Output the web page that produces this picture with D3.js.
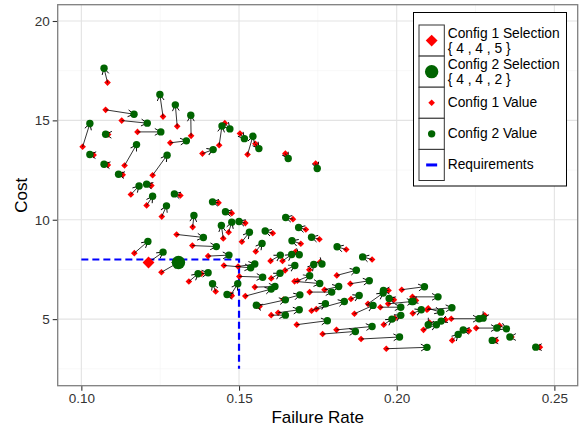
<!DOCTYPE html>
<html>
<head>
<meta charset="utf-8">
<script src="https://cdn.jsdelivr.net/npm/d3@7"></script>
<style>
  body { margin: 0; background: #fff; }
  text { font-family: "Liberation Sans", Arial, sans-serif; }
</style>
</head>
<body>
<svg id="chart" width="584" height="431"></svg>
<script>
// config 1 (red) -> config 2 (green), one arrow per pair
const config1Rate = [
  0.1083, 0.1077, 0.1128, 0.1178, 0.1259, 0.1304, 0.1348, 0.1282, 0.1004, 0.1085,
  0.1039, 0.1084, 0.1137, 0.1131, 0.1226, 0.1157, 0.1222, 0.1207, 0.1314, 0.1255,
  0.1353, 0.1384, 0.1437, 0.1455, 0.1503, 0.1527, 0.1552, 0.1647, 0.1743, 0.1435,
  0.1477, 0.1520, 0.1450, 0.1467, 0.1509, 0.1553, 0.1607, 0.1302, 0.1352, 0.1402,
  0.1168, 0.1213, 0.1254, 0.1341, 0.1381, 0.1426, 0.1474, 0.1477, 0.1452, 0.1497,
  0.1501, 0.1520, 0.1550, 0.1565, 0.1561, 0.1602, 0.1602, 0.1600, 0.1638, 0.1679,
  0.1696, 0.1671, 0.1712, 0.1755, 0.1840, 0.1922, 0.1646, 0.1723, 0.1685, 0.1676,
  0.1757, 0.1771, 0.1810, 0.1724, 0.1853, 0.1855, 0.1730, 0.1745, 0.1866, 0.1909,
  0.1948, 0.1973, 0.2016, 0.2050, 0.1959, 0.2051, 0.2096, 0.2100, 0.2085, 0.2173,
  0.2279, 0.2252, 0.2229, 0.2176, 0.2315, 0.2364, 0.2326, 0.2454, 0.1974, 0.1991,
  0.1683, 0.1765, 0.1809, 0.1887, 0.1967, 0.1994, 0.2061, 0.2155, 0.2104, 0.1624, 0.1641
];
const config1Cost = [
  16.90, 15.53, 14.99, 14.42, 15.19, 14.70, 14.22, 13.87, 13.67, 14.29,
  13.26, 12.76, 12.73, 12.26, 12.24, 11.27, 11.72, 10.72, 11.22, 10.16,
  9.63, 13.33, 13.75, 14.86, 14.34, 13.28, 13.82, 13.33, 12.83, 10.85,
  10.33, 9.83, 9.06, 9.37, 8.89, 8.40, 9.32, 9.26, 8.70, 8.17,
  8.32, 7.85, 7.36, 6.89, 7.28, 6.39, 6.22, 6.17, 7.70, 7.65,
  7.15, 6.16, 6.61, 5.64, 5.67, 5.20, 7.05, 7.93, 7.93, 8.39,
  8.79, 10.03, 9.51, 9.02, 8.50, 8.00, 7.45, 7.48, 6.93, 6.90,
  7.87, 6.48, 7.20, 6.36, 6.78, 6.01, 5.42, 5.50, 5.27, 5.77,
  5.60, 5.77, 6.48, 6.12, 4.72, 5.29, 5.47, 5.54, 4.46, 5.02,
  5.19, 4.55, 4.41, 3.93, 3.93, 4.10, 4.67, 3.59, 6.44, 5.97,
  4.72, 4.25, 4.46, 4.00, 3.51, 5.05, 5.94, 4.97, 4.83, 5.32, 5.99
];
const config2Rate = [
  0.1072, 0.1167, 0.1209, 0.1252, 0.1249, 0.1298, 0.1347, 0.1333, 0.1027, 0.1077,
  0.1027, 0.1072, 0.1175, 0.1118, 0.1272, 0.1183, 0.1207, 0.1226, 0.1295, 0.1270,
  0.1357, 0.1418, 0.1446, 0.1471, 0.1517, 0.1544, 0.1563, 0.1656, 0.1748, 0.1416,
  0.1457, 0.1500, 0.1444, 0.1477, 0.1533, 0.1573, 0.1583, 0.1387, 0.1428, 0.1468,
  0.1211, 0.1259, 0.1308, 0.1370, 0.1402, 0.1416, 0.1496, 0.1462, 0.1537, 0.1550,
  0.1575, 0.1602, 0.1614, 0.1555, 0.1647, 0.1647, 0.1630, 0.1631, 0.1667, 0.1691,
  0.1668, 0.1648, 0.1689, 0.1730, 0.1811, 0.1892, 0.1677, 0.1737, 0.1724, 0.1756,
  0.1763, 0.1816, 0.1872, 0.1794, 0.1913, 0.1881, 0.1774, 0.1834, 0.1925, 0.1957,
  0.2013, 0.2052, 0.2088, 0.2131, 0.1985, 0.2078, 0.2175, 0.2140, 0.2126, 0.2261,
  0.2274, 0.2318, 0.2211, 0.2195, 0.2303, 0.2359, 0.2348, 0.2441, 0.1958, 0.1976,
  0.1780, 0.1869, 0.1922, 0.2009, 0.2096, 0.2013, 0.2048, 0.2141, 0.2100, 0.1691, 0.1693
];
const config2Cost = [
  17.62, 15.31, 14.86, 14.42, 16.30, 15.78, 15.26, 13.97, 14.84, 14.30,
  13.28, 12.79, 13.78, 12.29, 13.25, 11.70, 11.79, 11.18, 11.30, 10.70,
  10.21, 13.53, 14.72, 14.57, 14.08, 14.20, 13.58, 13.08, 12.58, 10.90,
  10.40, 9.91, 9.71, 9.88, 9.37, 8.81, 9.43, 9.11, 8.65, 8.22,
  8.91, 8.37, 7.85, 7.28, 7.33, 6.78, 6.78, 6.24, 7.58, 7.77,
  7.11, 6.51, 6.64, 5.70, 5.97, 5.20, 7.31, 8.22, 8.25, 8.24,
  8.94, 10.11, 9.61, 9.12, 8.64, 8.13, 7.70, 7.75, 7.18, 6.79,
  7.77, 6.64, 7.46, 6.36, 6.93, 6.19, 5.77, 5.89, 5.69, 6.31,
  5.60, 5.89, 6.63, 6.12, 5.00, 5.47, 5.57, 5.35, 4.72, 5.02,
  5.05, 4.55, 4.45, 4.23, 3.93, 4.10, 4.51, 3.59, 6.44, 6.04,
  4.92, 4.38, 4.63, 4.10, 3.58, 5.19, 5.89, 4.90, 4.72, 5.47, 6.22
];

// selected configurations
const selection1 = { rate: 0.1213, cost: 7.85 };
const selection2 = { rate: 0.1308, cost: 7.85 };

// requirement lines (cost <= 8, failure rate <= 0.15)
const reqRate = [0.10, 0.15, 0.15];
const reqCost = [8, 8, 2.5];

const xTicks = [0.10, 0.15, 0.20, 0.25];
const xMinor = [0.125, 0.175, 0.225];
const yTicks = [5, 10, 15, 20];
const yMinor = [2.5, 7.5, 12.5, 17.5];

const legendLabels = [
  ["Config 1 Selection", "{ 4 , 4 , 5 }"],
  ["Config 2 Selection", "{ 4 , 4 , 2 }"],
  ["Config 1 Value"],
  ["Config 2 Value"],
  ["Requirements"]
];

const RED = "#ff0000", GREEN = "#006400", BLUE = "#0000ff";

const svg = d3.select("#chart");
const panel = { left: 57.7, right: 577.7, top: 4.7, bottom: 385.7 };

const x = d3.scaleLinear().domain([0.0925, 0.2574]).range([panel.left, panel.right]);
const y = d3.scaleLinear().domain([1.65, 20.82]).range([panel.bottom, panel.top]);

// grid
const grid = svg.append("g");
grid.selectAll(".xminor").data(xMinor).enter().append("line")
  .attr("x1", d => x(d)).attr("x2", d => x(d))
  .attr("y1", panel.top).attr("y2", panel.bottom)
  .attr("stroke", "#f2f2f2").attr("stroke-width", 0.6);
grid.selectAll(".yminor").data(yMinor).enter().append("line")
  .attr("y1", d => y(d)).attr("y2", d => y(d))
  .attr("x1", panel.left).attr("x2", panel.right)
  .attr("stroke", "#f2f2f2").attr("stroke-width", 0.6);
grid.selectAll(".xmajor").data(xTicks).enter().append("line")
  .attr("x1", d => x(d)).attr("x2", d => x(d))
  .attr("y1", panel.top).attr("y2", panel.bottom)
  .attr("stroke", "#e3e3e3").attr("stroke-width", 1.1);
grid.selectAll(".ymajor").data(yTicks).enter().append("line")
  .attr("y1", d => y(d)).attr("y2", d => y(d))
  .attr("x1", panel.left).attr("x2", panel.right)
  .attr("stroke", "#e3e3e3").attr("stroke-width", 1.1);

// axes
const xAxis = svg.append("g")
  .attr("transform", `translate(0,${panel.bottom})`)
  .call(d3.axisBottom(x).tickValues(xTicks).tickFormat(d3.format(".2f")).tickSize(5).tickPadding(3));
const yAxis = svg.append("g")
  .attr("transform", `translate(${panel.left},0)`)
  .call(d3.axisLeft(y).tickValues(yTicks).tickSize(5).tickPadding(3));
[xAxis, yAxis].forEach(a => {
  a.select(".domain").remove();
  a.selectAll(".tick line").attr("stroke", "#333").attr("stroke-width", 1.1);
  a.selectAll(".tick text").attr("fill", "#333").style("font-size", "13.5px")
    .style("font-family", "'Liberation Sans', Arial, sans-serif");
});

// requirements
const reqLine = d3.line().x((d, i) => x(reqRate[i])).y((d, i) => y(reqCost[i]));
svg.append("path")
  .attr("d", reqLine(reqRate))
  .attr("fill", "none").attr("stroke", BLUE)
  .attr("stroke-width", 2.2).attr("stroke-dasharray", "7,4");

// arrow head
svg.append("defs").append("marker")
  .attr("id", "head")
  .attr("markerUnits", "userSpaceOnUse")
  .attr("viewBox", "-8 -5 10 10")
  .attr("refX", 0).attr("refY", 0)
  .attr("markerWidth", 10).attr("markerHeight", 10)
  .attr("orient", "auto")
  .append("path")
  .attr("d", "M-6,-3.4L0,0L-6,3.4")
  .attr("fill", "none").attr("stroke", "#000").attr("stroke-width", 0.9);

const idx = d3.range(config1Rate.length);
const diamond = d3.symbol().type(d3.symbolSquare);

// config 1 values
svg.append("g").selectAll("path").data(idx).enter().append("path")
  .attr("d", diamond.size(22)())
  .attr("transform", i => `translate(${x(config1Rate[i])},${y(config1Cost[i])}) rotate(45)`)
  .attr("fill", RED);

// arrows
svg.append("g").selectAll("line").data(idx).enter().append("line")
  .attr("x1", i => x(config1Rate[i])).attr("y1", i => y(config1Cost[i]))
  .attr("x2", i => x(config2Rate[i])).attr("y2", i => y(config2Cost[i]))
  .attr("stroke", "#000").attr("stroke-width", 0.8)
  .attr("marker-end", "url(#head)");

// config 2 values
svg.append("g").selectAll("circle").data(idx).enter().append("circle")
  .attr("cx", i => x(config2Rate[i])).attr("cy", i => y(config2Cost[i]))
  .attr("r", 3.7).attr("fill", GREEN);

// selections
svg.append("path")
  .attr("d", diamond.size(70)())
  .attr("transform", `translate(${x(selection1.rate)},${y(selection1.cost)}) rotate(45)`)
  .attr("fill", RED);
svg.append("circle")
  .attr("cx", x(selection2.rate)).attr("cy", y(selection2.cost))
  .attr("r", 6.7).attr("fill", GREEN);

// panel border
svg.append("rect")
  .attr("x", panel.left).attr("y", panel.top)
  .attr("width", panel.right - panel.left).attr("height", panel.bottom - panel.top)
  .attr("fill", "none").attr("stroke", "#7f7f7f").attr("stroke-width", 1.3);

// axis titles
svg.append("text")
  .attr("x", (panel.left + panel.right) / 2).attr("y", 422.5)
  .attr("text-anchor", "middle").style("font-size", "17px").attr("fill", "#000")
  .text("Failure Rate");
svg.append("text")
  .attr("transform", `translate(27,${(panel.top + panel.bottom) / 2}) rotate(-90)`)
  .attr("text-anchor", "middle").style("font-size", "17px").attr("fill", "#000")
  .text("Cost");

// legend
const lg = svg.append("g");
lg.append("rect")
  .attr("x", 413.5).attr("y", 12.5).attr("width", 153).attr("height", 173.5)
  .attr("fill", "#fff").attr("stroke", "#000").attr("stroke-width", 1);

const keyTop = 25, keyH = 31.1, keyX = 419, keyW = 25.3;
legendLabels.forEach((lines, i) => {
  const ky = keyTop + i * keyH;
  const cx = keyX + keyW / 2, cy = ky + keyH / 2;
  lg.append("rect")
    .attr("x", keyX).attr("y", ky).attr("width", keyW).attr("height", keyH)
    .attr("fill", "#fff").attr("stroke", "#333").attr("stroke-width", 1);
  if (i === 0) {
    lg.append("path").attr("d", diamond.size(70)())
      .attr("transform", `translate(${cx},${cy}) rotate(45)`).attr("fill", RED);
  } else if (i === 1) {
    lg.append("circle").attr("cx", cx).attr("cy", cy).attr("r", 6.7).attr("fill", GREEN);
  } else if (i === 2) {
    lg.append("path").attr("d", diamond.size(22)())
      .attr("transform", `translate(${cx},${cy}) rotate(45)`).attr("fill", RED);
  } else if (i === 3) {
    lg.append("circle").attr("cx", cx).attr("cy", cy).attr("r", 3.7).attr("fill", GREEN);
  } else {
    lg.append("line").attr("x1", cx - 5.5).attr("x2", cx + 5.5)
      .attr("y1", cy).attr("y2", cy).attr("stroke", BLUE).attr("stroke-width", 3);
  }
  const t = lg.append("text").attr("x", 447.7).style("font-size", "13.8px").attr("fill", "#000");
  if (lines.length === 2) {
    t.append("tspan").attr("x", 447.7).attr("y", cy - 2.5).text(lines[0]);
    t.append("tspan").attr("x", 447.7).attr("y", cy + 12.5).text(lines[1]);
  } else {
    t.attr("y", cy + 4.5).text(lines[0]);
  }
});
</script>
</body>
</html>
